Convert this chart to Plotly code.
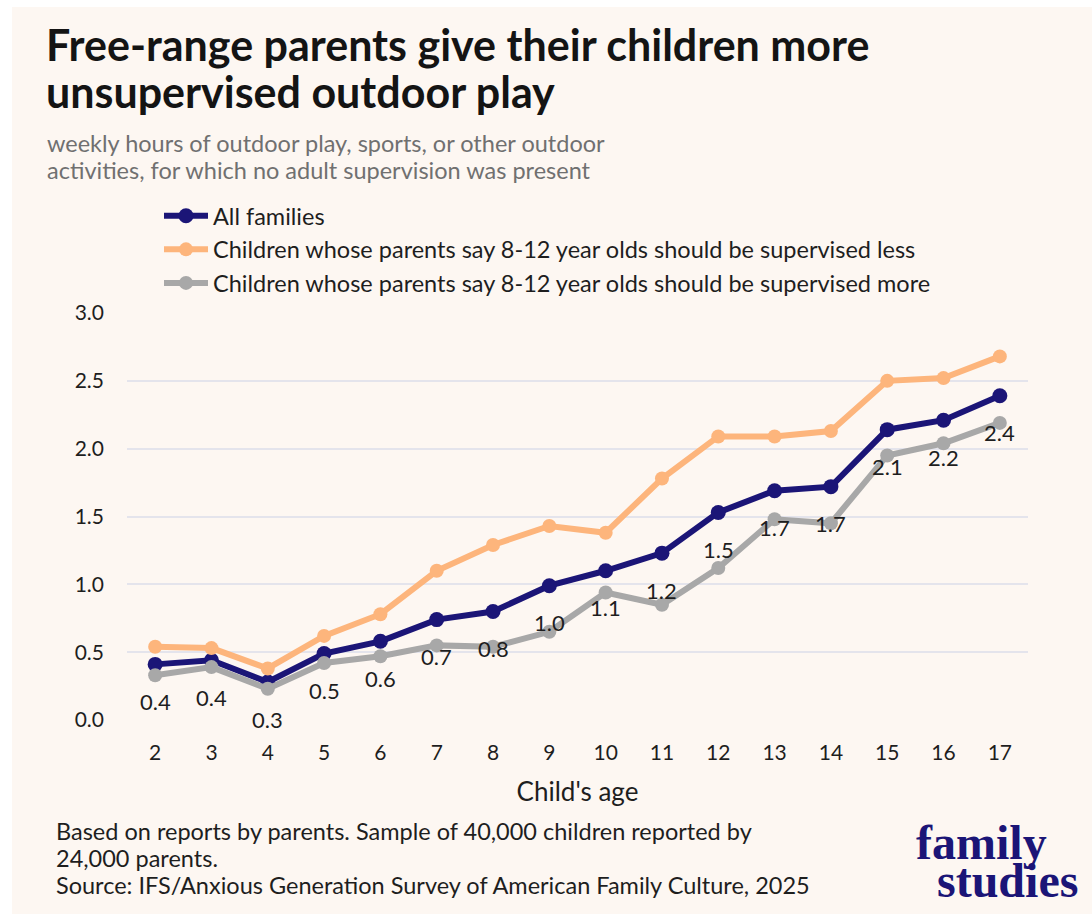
import plotly.graph_objects as go

# data
ages = list(range(2, 18))
all_families = [0.41, 0.44, 0.28, 0.49, 0.58, 0.74, 0.80, 0.99,
                1.10, 1.23, 1.53, 1.69, 1.72, 2.14, 2.21, 2.39]
supervised_less = [0.54, 0.53, 0.38, 0.62, 0.78, 1.10, 1.29, 1.43,
                   1.38, 1.78, 2.09, 2.09, 2.13, 2.50, 2.52, 2.68]
supervised_more = [0.33, 0.39, 0.23, 0.42, 0.47, 0.55, 0.54, 0.65,
                   0.94, 0.85, 1.12, 1.48, 1.45, 1.95, 2.04, 2.19]
y_ticks = [0.0, 0.5, 1.0, 1.5, 2.0, 2.5, 3.0]

SERIES = [
    ("All families", all_families, "#1B1577", 15),
    ("Children whose parents say 8-12 year olds should be supervised less", supervised_less, "#FDB57C", 14),
    ("Children whose parents say 8-12 year olds should be supervised more", supervised_more, "#A8A8A8", 14),
]

TITLE_LINES = ["Free-range parents give their children more", "unsupervised outdoor play"]
SUBTITLE_LINES = ["weekly hours of outdoor play, sports, or other outdoor",
                  "activities, for which no adult supervision was present"]
NOTE_LINES = ["Based on reports by parents. Sample of 40,000 children reported by",
              "24,000 parents.",
              "Source: IFS/Anxious Generation Survey of American Family Culture, 2025"]

BG = "#FDF7F2"
INK = "#1E1E1E"
FONT = "Lato"

# pixel layout of the plot area
W, H = 1092, 914
L, R, T, B = 127, 1028, 313, 720


def xp(px):
    return (px - L) / (R - L)


def yp(py):
    return (B - py) / (B - T)


def text_line(txt, x, y, size, color, anchor="left", family=FONT, weight=400):
    fig.add_annotation(
        xref="paper", yref="paper", x=xp(x), y=yp(y),
        xanchor=anchor, yanchor="middle", showarrow=False, text=txt,
        font=dict(family=family, size=size, color=color, weight=weight),
    )


fig = go.Figure()

for name, vals, color, msize in SERIES:
    fig.add_trace(go.Scatter(
        x=ages, y=vals, name=name,
        mode="lines+markers",
        line=dict(color=color, width=6),
        marker=dict(color=color, size=msize),
    ))

# value labels (All families) below the points
for a, v in zip(ages, all_families):
    fig.add_annotation(
        x=a, y=v, text=f"{v:.1f}", showarrow=False,
        yshift=-37, font=dict(family=FONT, size=22, color=INK),
    )

# title, subtitle, note
for i, t in enumerate(TITLE_LINES):
    text_line(t, 44, 44 + 48 * i, 43, "#141414", weight=700)
for i, t in enumerate(SUBTITLE_LINES):
    text_line(t, 45, 143 + 27 * i, 23.5, "#707070")
for i, t in enumerate(NOTE_LINES):
    text_line(t, 54, 831 + 27 * i, 23.5, INK)

# logo
text_line("family", 981, 842, 48, "#1B1577", anchor="center",
          family="Liberation Serif", weight=700)
text_line("studies", 1007, 880, 48, "#1B1577", anchor="center",
          family="Liberation Serif", weight=700)

# cream panel with white edge at top/left
fig.add_shape(
    type="rect", xref="paper", yref="paper", layer="below",
    x0=xp(12), x1=xp(W + 5), y0=yp(H + 5), y1=yp(7),
    fillcolor=BG, line=dict(width=0),
)

fig.update_layout(
    width=W, height=H,
    margin=dict(l=L, r=W - R, t=T, b=H - B),
    paper_bgcolor="#FFFFFF",
    plot_bgcolor=BG,
    font=dict(family=FONT, size=21, color=INK),
    showlegend=True,
    legend=dict(
        x=xp(159), y=yp(194), xanchor="left", yanchor="top",
        bgcolor="rgba(0,0,0,0)", font=dict(family=FONT, size=23.5, color=INK),
        itemwidth=44, tracegroupgap=0,
    ),
    xaxis=dict(
        range=[1.5, 17.5], tickmode="array", tickvals=ages,
        ticktext=[str(a) for a in ages],
        showgrid=False, zeroline=False, showline=False,
        ticks="", ticklabelstandoff=18,
        tickfont=dict(family=FONT, size=21, color=INK),
        title=dict(text="Child's age", standoff=19,
                   font=dict(family=FONT, size=26, color=INK)),
    ),
    yaxis=dict(
        range=[0, 3], tickmode="array", tickvals=y_ticks,
        ticktext=[f"{t:.1f}" for t in y_ticks],
        showgrid=True, gridcolor="#E4E4EC", gridwidth=1.5,
        zeroline=False, showline=False, ticks="", ticklabelstandoff=22,
        tickfont=dict(family=FONT, size=21, color=INK),
    ),
)

fig.write_html("out.html", config={"displayModeBar": False},
               post_script="document.body.style.margin='0';")
